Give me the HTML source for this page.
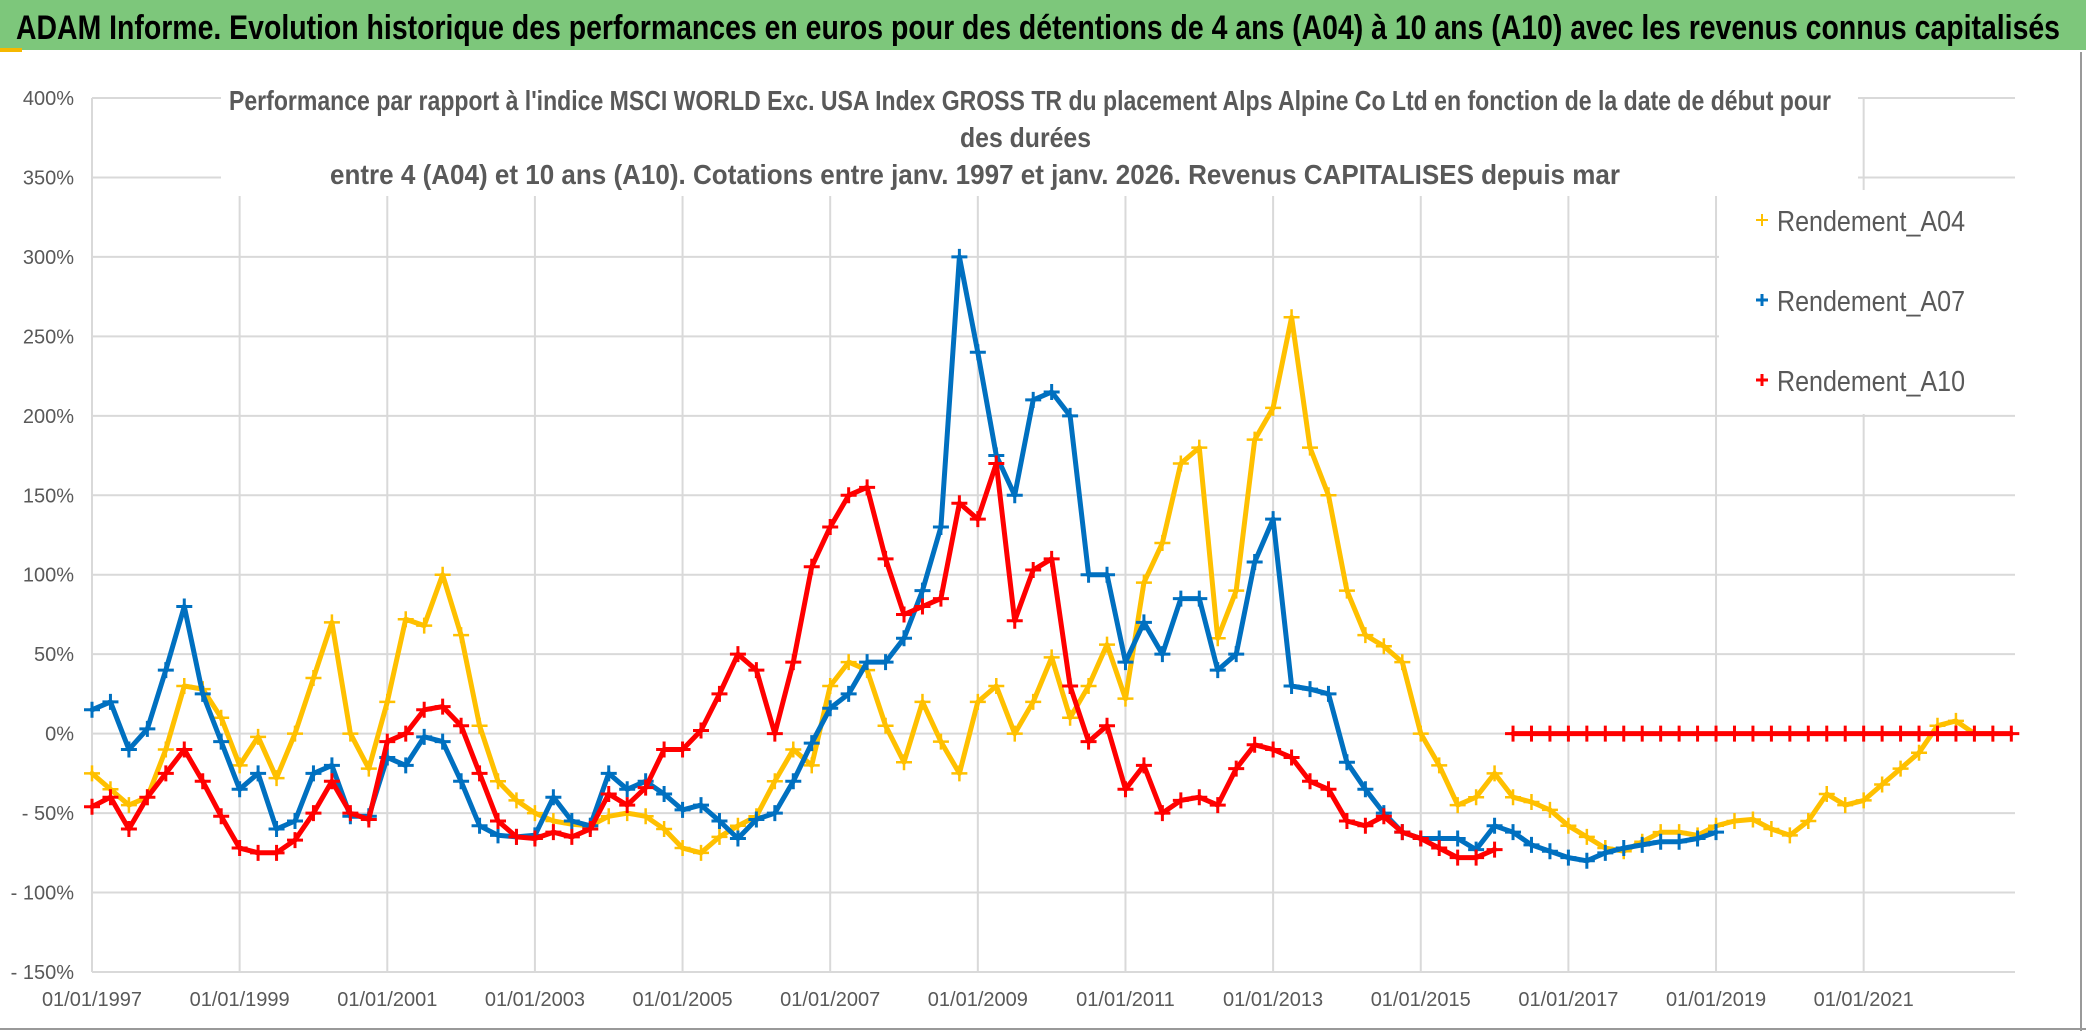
<!DOCTYPE html>
<html><head><meta charset="utf-8"><style>
html,body{margin:0;padding:0;background:#fff;}
svg{display:block;}
text{font-family:"Liberation Sans Narrow","Liberation Sans",sans-serif;}
</style></head><body>
<svg id="chart" xmlns="http://www.w3.org/2000/svg" width="2086" height="1031" viewBox="0 0 2086 1031">
<rect x="0" y="0" width="2086" height="1031" fill="#fff"/>
<rect x="0" y="0" width="2086" height="50" fill="#7DC77B"/>
<rect x="0" y="48" width="22" height="4" fill="#F5B800"/>
<text x="16" y="39" font-size="34" font-weight="bold" fill="#000" textLength="2044" lengthAdjust="spacingAndGlyphs">ADAM Informe. Evolution historique des performances en euros pour des détentions de 4 ans (A04) à 10 ans (A10) avec les revenus connus capitalisés</text>
<line x1="2081" y1="52" x2="2081" y2="1031" stroke="#999" stroke-width="2"/>
<line x1="0" y1="1029" x2="2086" y2="1029" stroke="#999" stroke-width="2"/>
<g id="grid"></g>
<g id="series"></g>
<rect x="221" y="84" width="1637" height="112" fill="#fff"/>
<g fill="#595959" font-size="28" font-weight="bold">
<text x="229" y="110" textLength="1602" lengthAdjust="spacingAndGlyphs">Performance par rapport à l'indice MSCI WORLD Exc. USA Index GROSS TR  du placement Alps Alpine Co Ltd en fonction de la date de début pour</text>
<text x="960" y="147" textLength="131" lengthAdjust="spacingAndGlyphs">des durées</text>
<text x="330" y="184" textLength="1290" lengthAdjust="spacingAndGlyphs">entre 4 (A04) et 10 ans (A10). Cotations entre janv. 1997 et janv. 2026. Revenus CAPITALISES depuis mar</text>
</g>
<rect x="1719" y="190" width="296" height="224" fill="#fff"/>
<g font-size="29" fill="#595959">
<g><path d="M1756 220h12M1762 214v12" stroke="#FFC000" stroke-width="2"/><text x="1777" y="231" textLength="188" lengthAdjust="spacingAndGlyphs">Rendement_A04</text></g>
<g><path d="M1756 300h12M1762 294v12" stroke="#0070C0" stroke-width="3"/><text x="1777" y="311" textLength="188" lengthAdjust="spacingAndGlyphs">Rendement_A07</text></g>
<g><path d="M1756 380h12M1762 374v12" stroke="#FF0000" stroke-width="3"/><text x="1777" y="391" textLength="188" lengthAdjust="spacingAndGlyphs">Rendement_A10</text></g>
</g>
<g id="axes"></g>
</svg>
<script>
const yTicks = [400,350,300,250,200,150,100,50,0,-50,-100,-150];
const xTickYears = [1997,1999,2001,2003,2005,2007,2009,2011,2013,2015,2017,2019,2021];
const a04Start = 1997.0;
const a04Values = [-25,-35,-45,-40,-10,30,28,10,-20,-2,-28,0,35,70,0,-22,20,72,68,100,62,5,-30,-42,-50,-55,-57,-58,-52,-50,-52,-60,-72,-75,-65,-58,-52,-30,-10,-20,30,45,40,5,-18,20,-5,-25,20,30,0,20,48,10,30,56,22,95,120,170,180,60,90,185,205,262,180,150,90,62,55,45,0,-20,-45,-40,-25,-40,-43,-48,-58,-65,-72,-74,-68,-62,-62,-64,-58,-55,-54,-60,-64,-55,-38,-45,-42,-32,-22,-12,5,8,0,0];
const a07Start = 1997.0;
const a07Values = [15,20,-10,3,40,80,25,-5,-35,-25,-60,-55,-25,-20,-52,-52,-15,-20,-2,-5,-30,-58,-64,-65,-64,-40,-55,-58,-25,-35,-30,-38,-48,-45,-55,-66,-54,-50,-30,-6,16,25,45,45,60,90,130,300,240,175,150,210,215,200,100,100,45,70,50,85,85,40,50,108,135,30,28,25,-18,-35,-50,-62,-66,-66,-66,-73,-58,-62,-70,-74,-78,-80,-75,-72,-70,-68,-68,-66,-62];
const a10Start = 1997.0;
const a10Values = [-46,-40,-60,-40,-25,-10,-30,-52,-72,-75,-75,-67,-50,-30,-50,-54,-5,0,15,17,5,-25,-55,-65,-66,-62,-65,-60,-38,-45,-34,-10,-10,2,25,50,40,0,45,105,130,150,155,110,75,80,85,145,135,170,71,103,110,30,-5,5,-35,-20,-50,-42,-40,-45,-22,-7,-10,-15,-30,-35,-55,-58,-52,-62,-66,-72,-78,-78,-73];
const a10ZeroStart = 2016.25;
const a10ZeroValues = [0,0,0,0,0,0,0,0,0,0,0,0,0,0,0,0,0,0,0,0,0,0,0,0,0,0,0,0];
const stepYears = 0.25;

const X0=92, X1=2015, YEAR0=1997, YEAR1=2023.05;
const Y_TOP=98, Y_BOT=972, V_TOP=400, V_BOT=-150;
function xScale(year){return X0+(year-YEAR0)*(X1-X0)/(YEAR1-YEAR0);}
function yScale(v){return Y_TOP+(V_TOP-v)*(Y_BOT-Y_TOP)/(V_TOP-V_BOT);}
const NS="http://www.w3.org/2000/svg";
function mk(tag,attrs,parent){const e=document.createElementNS(NS,tag);for(const k in attrs)e.setAttribute(k,attrs[k]);parent.appendChild(e);return e;}

const grid=document.getElementById('grid');
const axes=document.getElementById('axes');
yTicks.forEach(v=>{
  const y=yScale(v);
  const l=mk('line',{x1:X0,x2:X1,y1:y,y2:y,stroke:'#d9d9d9','stroke-width':2},grid);
  
  
  const t=mk('text',{x:74,y:y+7,'text-anchor':'end','font-size':20,fill:'#595959'},axes);
  t.textContent=(v<0?'- '+Math.abs(v):v)+'%';
  
  
});
xTickYears.forEach(yr=>{
  const x=xScale(yr);
  const l=mk('line',{x1:x,x2:x,y1:Y_TOP,y2:Y_BOT,stroke:'#d9d9d9','stroke-width':2},grid);
  
  
  const t=mk('text',{x:x,y:1006,'text-anchor':'middle','font-size':20,fill:'#595959'},axes);
  t.textContent='01/01/'+yr;
  
  
});

const seriesLayer=document.getElementById('series');
function drawSeries(name,start,values,color,sw){
  const g=mk('g',{},seriesLayer);
  
  
  const pts=values.map((v,i)=>xScale(start+i*stepYears).toFixed(1)+','+yScale(v).toFixed(1)).join(' ');
  const pl=mk('polyline',{points:pts,fill:'none',stroke:color,'stroke-width':5,'stroke-linejoin':'round','stroke-linecap':'round'},g);
  
  
  values.forEach((v,i)=>{
    const x=xScale(start+i*stepYears), y=yScale(v);
    const p=mk('path',{d:`M${x-8} ${y}h16M${x} ${y-8}v16`,stroke:color,'stroke-width':sw},g);
    
    
  });
}
drawSeries('series-a04',a04Start,a04Values,'#FFC000',2.5);
drawSeries('series-a07',a07Start,a07Values,'#0070C0',3);
drawSeries('series-a10',a10Start,a10Values,'#FF0000',3);
drawSeries('series-a10-zero',a10ZeroStart,a10ZeroValues,'#FF0000',3);
</script>
</body></html>
